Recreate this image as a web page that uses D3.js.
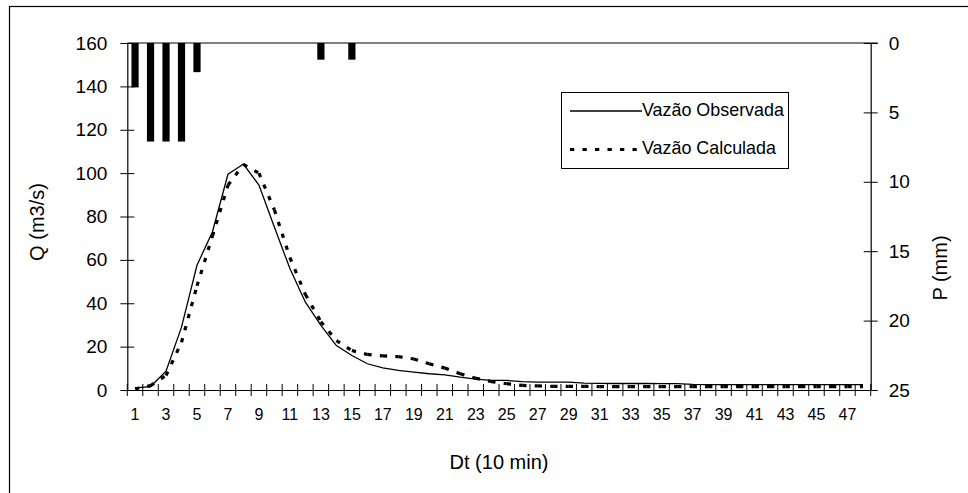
<!DOCTYPE html>
<html>
<head>
<meta charset="utf-8">
<script src="https://cdn.jsdelivr.net/npm/d3@7"></script>
<style>
html,body{margin:0;padding:0;background:#fff;}
svg{display:block;font-family:"Liberation Sans",Arial,sans-serif;}
</style>
</head>
<body>
<svg id="chart" width="968" height="493"></svg>
<script>
// ---- data ----
const categories = d3.range(1, 49).map(String);
const observed = [1.0, 1.6, 8.7, 29, 57.5, 73, 99.5, 104.2, 94.5, 75, 56, 40.5,
  29.8, 20.5, 15.9, 12.1, 10.2, 9.0, 8.2, 7.5, 7.0, 5.9, 5.0, 4.4,
  4.4, 3.9, 3.6, 3.6, 3.6, 3.2, 3.1, 3.0, 3.0, 3.0, 2.9, 2.9,
  2.6, 2.5, 2.5, 2.5, 2.5, 2.5, 2.5, 2.5, 2.5, 2.5, 2.5, 2.5];
const calculated = [0.5, 2.0, 6.7, 22, 48, 71, 94.4, 104, 100, 83, 61, 44,
  31.5, 22.8, 18.2, 16.4, 15.7, 15.4, 14.3, 12.1, 10.1, 7.5, 5.4, 3.9,
  2.9, 2.1, 1.9, 1.7, 1.7, 1.7, 1.6, 1.6, 1.6, 1.6, 1.6, 1.6,
  1.6, 1.6, 1.6, 1.6, 1.6, 1.6, 1.6, 1.6, 1.6, 1.6, 1.6, 1.6];
const precipitation = [3.2, 7.1, 7.1, 7.1, 2.1, 0, 0, 0, 0, 0, 0, 0,
  1.2, 0, 1.2, 0, 0, 0, 0, 0, 0, 0, 0, 0,
  0, 0, 0, 0, 0, 0, 0, 0, 0, 0, 0, 0,
  0, 0, 0, 0, 0, 0, 0, 0, 0, 0, 0, 0];
const qTicks = [0, 20, 40, 60, 80, 100, 120, 140, 160];
const pTicks = [0, 5, 10, 15, 20, 25];
const xTickLabels = categories.filter((d, i) => i % 2 === 0);
const seriesNames = ["Vazão Observada", "Vazão Calculada"];

// ---- layout ----
const L = 127.3, R = 870.7, T = 43, B = 390;
const svg = d3.select("#chart");

const x = d3.scaleBand().domain(categories).range([L, R]).padding(0);
const bw = x.bandwidth();
const cx = c => x(c) + bw / 2;
const yQ = d3.scaleLinear().domain([0, 160]).range([B, T]);
const yP = d3.scaleLinear().domain([0, 25]).range([T, B]);

// outer frame
svg.append("rect").attr("x", 9.5).attr("y", 6.5).attr("width", 980).attr("height", 520)
  .attr("fill", "none").attr("stroke", "#000").attr("stroke-width", 1.2);

// top grey line (secondary category axis)
svg.append("line").attr("x1", L).attr("x2", R + 7).attr("y1", T).attr("y2", T)
  .attr("stroke", "#808080").attr("stroke-width", 2);

// precipitation bars
const barW = 7.2;
svg.append("g").selectAll("rect").data(categories).join("rect")
  .attr("x", d => cx(d) - barW / 2)
  .attr("y", yP(0))
  .attr("width", barW)
  .attr("height", (d, i) => yP(precipitation[i]) - yP(0))
  .attr("fill", "#000");

// left axis
const gL = svg.append("g").attr("transform", `translate(${L},0)`);
gL.call(d3.axisLeft(yQ).tickValues(qTicks).tickSize(0).tickPadding(20).tickFormat(d3.format("d")));
gL.select(".domain").attr("stroke", "#000").attr("stroke-width", 1.2);
gL.selectAll(".tick text").attr("font-size", 19).attr("fill", "#000").attr("font-family", "Liberation Sans, Arial, sans-serif");
gL.selectAll(".tick").append("line").attr("x1", -7).attr("x2", 7).attr("stroke", "#000").attr("stroke-width", 1);

// right axis
const gR = svg.append("g").attr("transform", `translate(${R},0)`);
gR.call(d3.axisRight(yP).tickValues(pTicks).tickSize(0).tickPadding(18).tickFormat(d3.format("d")));
gR.select(".domain").attr("stroke", "#000").attr("stroke-width", 1.2);
gR.selectAll(".tick text").attr("font-size", 19).attr("fill", "#000").attr("font-family", "Liberation Sans, Arial, sans-serif");
gR.selectAll(".tick").append("line").attr("x1", -7).attr("x2", 7).attr("stroke", "#000").attr("stroke-width", 1);

// bottom axis
const gB = svg.append("g").attr("transform", `translate(0,${B})`);
gB.call(d3.axisBottom(x).tickValues(xTickLabels).tickSize(0).tickPadding(19));
gB.select(".domain").attr("stroke", "#000").attr("stroke-width", 1.2);
gB.selectAll(".tick text").attr("font-size", 16).attr("fill", "#000").attr("font-family", "Liberation Sans, Arial, sans-serif");
const boundaries = categories.map(c => x(c)).concat([R]);
gB.append("g").selectAll("line").data(boundaries).join("line")
  .attr("x1", d => d).attr("x2", d => d).attr("y1", -6).attr("y2", 6)
  .attr("stroke", "#000").attr("stroke-width", 1);

// observed line (solid)
const lineQ = d3.line().x((d, i) => cx(categories[i])).y(d => yQ(d));
svg.append("path").datum(observed).attr("d", lineQ)
  .attr("fill", "none").attr("stroke", "#000").attr("stroke-width", 1.3);

// calculated line (dashed, pattern restarts each segment)
const segs = d3.pairs(calculated.map((v, i) => [cx(categories[i]), yQ(v)]));
svg.append("g").selectAll("path").data(segs).join("path")
  .attr("d", d => d3.line()(d))
  .attr("fill", "none").attr("stroke", "#000").attr("stroke-width", 3.2)
  .attr("stroke-dasharray", "4.3,8.2");

// legend
const lg = svg.append("g");
lg.append("rect").attr("x", 561.5).attr("y", 92.5).attr("width", 227).attr("height", 76)
  .attr("fill", "#fff").attr("stroke", "#000").attr("stroke-width", 1);
lg.append("line").attr("x1", 570).attr("x2", 642).attr("y1", 111).attr("y2", 111)
  .attr("stroke", "#000").attr("stroke-width", 1.3);
lg.append("line").attr("x1", 570).attr("x2", 642).attr("y1", 149.5).attr("y2", 149.5)
  .attr("stroke", "#000").attr("stroke-width", 3.2).attr("stroke-dasharray", "4.3,8.2");
lg.selectAll("text").data(seriesNames).join("text")
  .attr("x", 642).attr("y", (d, i) => i === 0 ? 115.5 : 154)
  .attr("font-size", 17.9).attr("fill", "#000").text(d => d);

// axis titles
svg.append("text").attr("transform", "translate(44,222) rotate(-90)")
  .attr("text-anchor", "middle").attr("font-size", 20).text("Q (m3/s)");
svg.append("text").attr("transform", "translate(947,268) rotate(-90)")
  .attr("text-anchor", "middle").attr("font-size", 20).text("P (mm)");
svg.append("text").attr("x", 499).attr("y", 469)
  .attr("text-anchor", "middle").attr("font-size", 20).text("Dt (10 min)");
</script>
</body>
</html>
